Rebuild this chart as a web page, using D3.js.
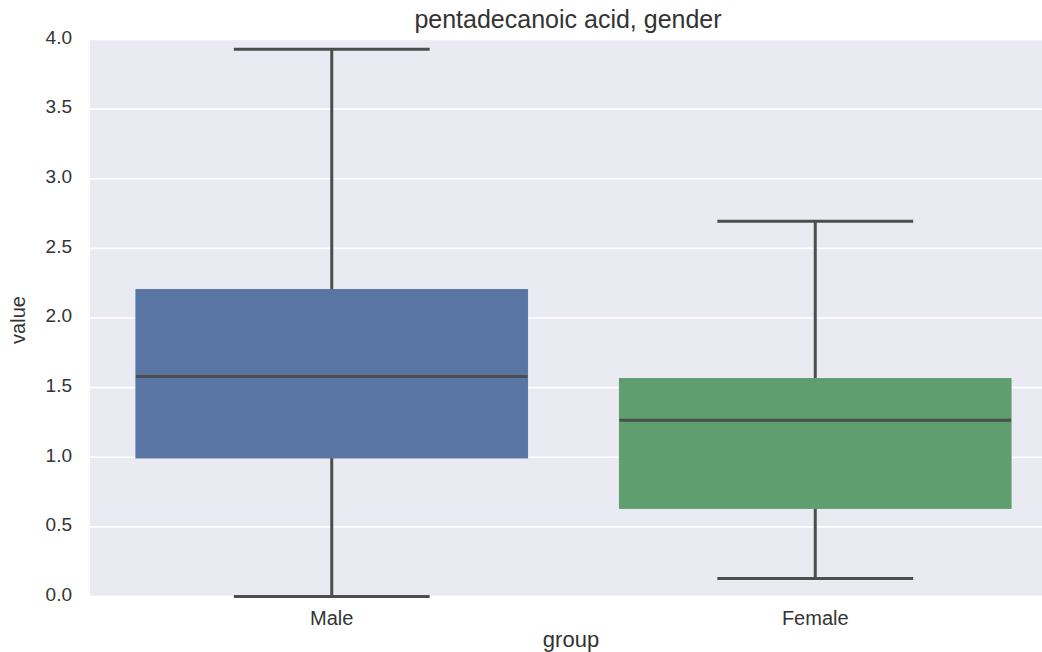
<!DOCTYPE html>
<html><head><meta charset="utf-8">
<script src="https://cdn.jsdelivr.net/npm/d3@7"></script>
<style>body{margin:0;background:#fff}svg{display:block}text{font-family:"Liberation Sans",Arial,sans-serif;fill:#333}</style>
</head><body><svg id="c" width="1042" height="652"></svg>
<script>
const categories = ["Male", "Female"];
const colors = ["#5875A4", "#5F9E6E"];
const q1 = [0.995, 0.633];
const median = [1.58, 1.266];
const q3 = [2.204, 1.565];
const whiskLow = [0.0, 0.13];
const whiskHigh = [3.93, 2.694];
const yTicks = [0, 0.5, 1.0, 1.5, 2.0, 2.5, 3.0, 3.5, 4.0];
const title = "pentadecanoic acid, gender";

const svg = d3.select("#c");
const L = 90, R = 1057, T = 39.5, B = 596.5;
const x = d3.scaleBand().domain(categories).range([L, R]).paddingInner(0).paddingOuter(0);
const y = d3.scaleLinear().domain([0, 4]).range([B, T]);

svg.append("rect").attr("x", L).attr("y", T).attr("width", R - L).attr("height", B - T).attr("fill", "#EAEAF2");
svg.append("g").selectAll("line").data(yTicks).join("line")
  .attr("x1", L).attr("x2", R).attr("y1", d => y(d)).attr("y2", d => y(d))
  .attr("stroke", "#fff").attr("stroke-width", 1.6);

const yAxis = d3.axisLeft(y).tickValues(yTicks).tickFormat(d3.format(".1f")).tickSize(0).tickPadding(18);
const ga = svg.append("g").attr("transform", `translate(${L},0)`).call(yAxis);
ga.select(".domain").remove();
ga.selectAll("text").attr("font-size", 19).attr("fill", "#333").style("font-family", "Liberation Sans, Arial, sans-serif").attr("dy", "0.2em");

const xAxis = d3.axisBottom(x).tickSize(0).tickPadding(14);
const gx = svg.append("g").attr("transform", `translate(0,${B})`).call(xAxis);
gx.select(".domain").remove();
gx.selectAll("text").attr("font-size", 20).attr("fill", "#333").style("font-family", "Liberation Sans, Arial, sans-serif");

const bw = x.bandwidth() * 0.81;
const lineC = "#4d4d4d", lw = 3;
const g = svg.append("g");
categories.forEach((c, i) => {
  const cx = x(c) + x.bandwidth() / 2;
  g.append("line").attr("x1", cx).attr("x2", cx).attr("y1", y(whiskLow[i])).attr("y2", y(q1[i])).attr("stroke", lineC).attr("stroke-width", lw);
  g.append("line").attr("x1", cx).attr("x2", cx).attr("y1", y(whiskHigh[i])).attr("y2", y(q3[i])).attr("stroke", lineC).attr("stroke-width", lw);
  g.append("line").attr("x1", cx - bw / 4).attr("x2", cx + bw / 4).attr("y1", y(whiskLow[i])).attr("y2", y(whiskLow[i])).attr("stroke", lineC).attr("stroke-width", lw);
  g.append("line").attr("x1", cx - bw / 4).attr("x2", cx + bw / 4).attr("y1", y(whiskHigh[i])).attr("y2", y(whiskHigh[i])).attr("stroke", lineC).attr("stroke-width", lw);
  g.append("rect").attr("x", cx - bw / 2).attr("y", y(q3[i])).attr("width", bw).attr("height", y(q1[i]) - y(q3[i]))
    .attr("fill", colors[i]).attr("stroke", colors[i]).attr("stroke-width", 1);
  g.append("line").attr("x1", cx - bw / 2).attr("x2", cx + bw / 2).attr("y1", y(median[i])).attr("y2", y(median[i])).attr("stroke", lineC).attr("stroke-width", lw);
});

svg.append("text").attr("x", 568).attr("y", 28).attr("text-anchor", "middle").attr("font-size", 25).text(title);
svg.append("text").attr("x", 571).attr("y", 647).attr("text-anchor", "middle").attr("font-size", 22).text("group");
svg.append("text").attr("transform", "translate(25,320) rotate(-90)").attr("text-anchor", "middle").attr("font-size", 20).text("value");
</script></body></html>
